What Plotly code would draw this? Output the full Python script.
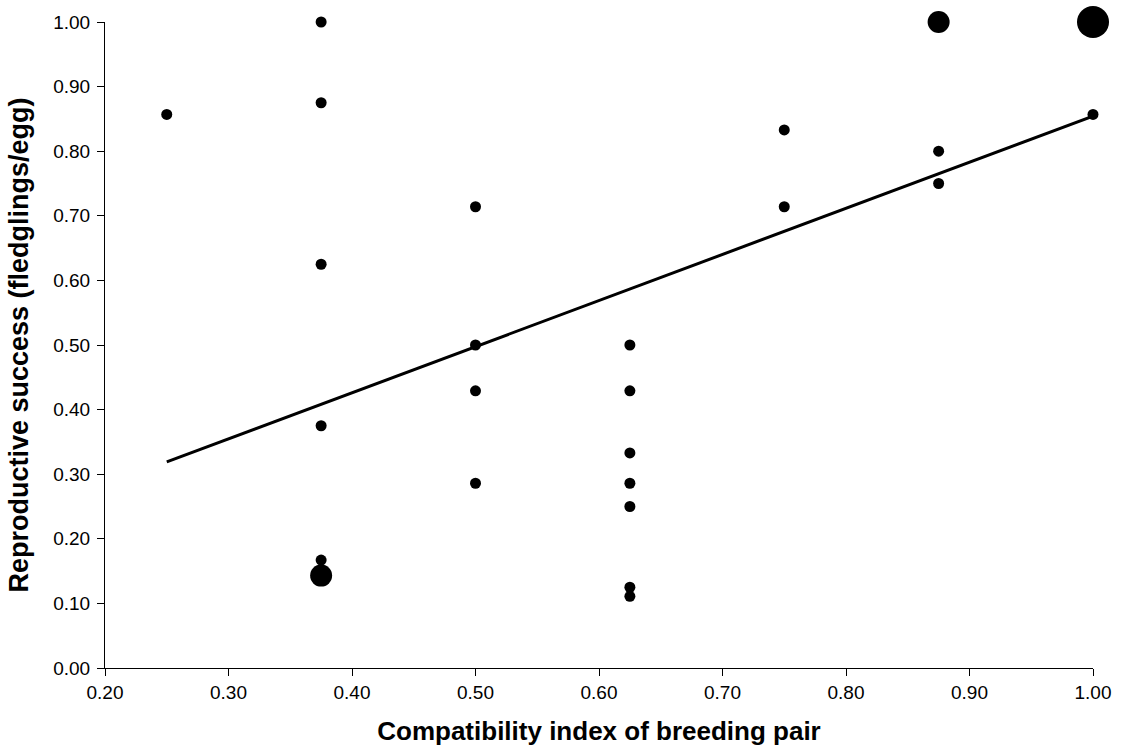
import numpy as np
import plotly.graph_objects as go

# Data
compat = [0.25,
          0.375, 0.375, 0.375, 0.375, 0.375, 0.375,
          0.5, 0.5, 0.5, 0.5,
          0.625, 0.625, 0.625, 0.625, 0.625, 0.625, 0.625,
          0.75, 0.75,
          0.875, 0.875, 0.875,
          1.0, 1.0]
success = [0.857,
           1.0, 0.875, 0.625, 0.375, 0.167, 0.143,
           0.714, 0.5, 0.429, 0.286,
           0.5, 0.429, 0.333, 0.286, 0.25, 0.125, 0.111,
           0.833, 0.714,
           1.0, 0.8, 0.75,
           1.0, 0.857]
pair_count = [1,
              1, 1, 1, 1, 1, 2,
              1, 1, 1, 1,
              1, 1, 1, 1, 1, 1, 1,
              1, 1,
              2, 1, 1,
              3, 1]

x_ticks = [0.2, 0.3, 0.4, 0.5, 0.6, 0.7, 0.8, 0.9, 1.0]
y_ticks = [0.0, 0.1, 0.2, 0.3, 0.4, 0.5, 0.6, 0.7, 0.8, 0.9, 1.0]

# styling
size_for_count = {1: 11, 2: 22, 3: 32}
marker_sizes = [size_for_count[c] for c in pair_count]

# weighted linear trend (each pair counted)
xs = np.repeat(compat, pair_count)
ys = np.repeat(success, pair_count)
slope, intercept = np.polyfit(xs, ys, 1)
trend_x = np.array([min(compat), max(compat)])
trend_y = slope * trend_x + intercept

fig = go.Figure()
fig.add_trace(go.Scatter(x=trend_x, y=trend_y, mode="lines",
                         line=dict(color="#000000", width=3), hoverinfo="skip",
                         showlegend=False))
fig.add_trace(go.Scatter(x=compat, y=success, mode="markers", opacity=1,
                         marker=dict(color="#000000", size=marker_sizes, opacity=1,
                                     line=dict(width=0, color="#000000")),
                         showlegend=False, cliponaxis=False))

font_family = "Liberation Sans, Arial, sans-serif"
fig.update_layout(
    width=1125, height=753,
    margin=dict(l=105, r=32, t=19, b=85),
    plot_bgcolor="white", paper_bgcolor="white",
    font=dict(family=font_family, color="#000000", size=19),
    xaxis=dict(range=[0.2, 1.0], tickvals=x_ticks, ticktext=[f"{v:.2f}" for v in x_ticks],
               showgrid=False, zeroline=False, showline=True, linecolor="#000000", linewidth=1,
               ticks="outside", ticklen=7, tickcolor="#000000", tickwidth=1,
               tickfont=dict(size=19, color="#000000"),
               title=dict(text="<b>Compatibility index of breeding pair</b>",
                          font=dict(size=26, color="#000000"), standoff=20)),
    yaxis=dict(range=[0.0, 1.0], tickvals=y_ticks, ticktext=[f"{v:.2f}" for v in y_ticks],
               showgrid=False, zeroline=False, showline=True, linecolor="#000000", linewidth=1,
               ticks="outside", ticklen=7, tickcolor="#000000", tickwidth=1,
               ticklabelstandoff=3,
               tickfont=dict(size=19, color="#000000"),
               title=dict(text="<b>Reproductive success (fledglings/egg)</b>",
                          font=dict(size=27, color="#000000"), standoff=16)),
)

fig.write_html("out.html")
